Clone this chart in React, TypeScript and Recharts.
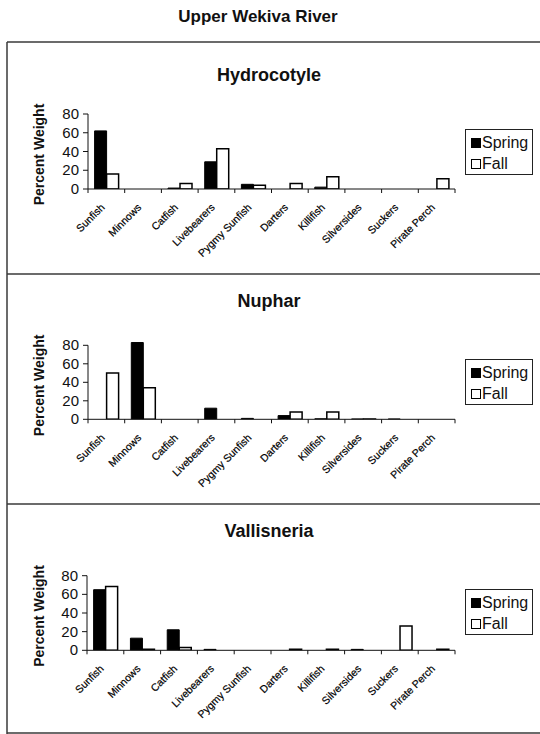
import React from 'react';
import { BarChart, Bar, XAxis, YAxis, Legend } from 'recharts';

const categories = ['Sunfish', 'Minnows', 'Catfish', 'Livebearers', 'Pygmy Sunfish', 'Darters', 'Killifish', 'Silversides', 'Suckers', 'Pirate Perch'];

const hydrocotyleSpring = [62, 0, 1, 29, 5, 0, 2, 0, 0, 0];
const hydrocotyleFall = [16, 0, 6, 43, 4, 6, 13, 0, 0, 11];

const nupharSpring = [0, 83, 0, 12, 1, 4, 0.5, 0.3, 0.3, 0];
const nupharFall = [50, 34, 0, 0, 0, 8, 8, 0.3, 0, 0];

const vallisneriaSpring = [65, 13, 22, 1, 0, 0, 0, 1, 0, 0];
const vallisneriaFall = [68.5, 1, 3, 0, 0, 1, 1, 0, 26, 1];

const yTicks = [0, 20, 40, 60, 80];
const mainTitle = 'Upper Wekiva River';
const panelTitles = ['Hydrocotyle', 'Nuphar', 'Vallisneria'];
const yLabel = 'Percent Weight';
const springName = 'Spring';
const fallName = 'Fall';

const FONT = '"Liberation Sans", Arial, Helvetica, sans-serif';
const INK = '#111';
const Y_MAX = 84;
const Y_TOP_TICK = 80;

function buildRows(spring: number[], fall: number[]) {
  return categories.map((c, i) => ({ name: c, spring: spring[i], fall: fall[i] }));
}

const XTick = (props: any) => {
  const { x, y, payload, index } = props;
  const off = payload && typeof payload.offset === 'number' && payload.offset > 0 ? payload.offset : 18.35;
  const tx = x - 1;
  const ty = y + 19;
  return (
    <g>
      <line x1={x - off} x2={x - off} y1={y} y2={y + 4} stroke={INK} strokeWidth={1} />
      {index === categories.length - 1 && (
        <line x1={x + off} x2={x + off} y1={y} y2={y + 4} stroke={INK} strokeWidth={1} />
      )}
      <text x={tx} y={ty} transform={`rotate(-45, ${tx}, ${ty})`} textAnchor="end" fontSize={10.5} fontFamily={FONT} fill="#000" stroke="#000" strokeWidth={0.2}>
        {payload.value}
      </text>
    </g>
  );
};

const makeYTick = (px80: number) => (props: any) => {
  const { x, y, payload } = props;
  const axisX = x + 9;
  return (
    <g>
      <line x1={axisX - 5} x2={axisX} y1={y} y2={y} stroke={INK} strokeWidth={1} />
      {payload.value === Y_TOP_TICK && (
        <line x1={axisX} x2={axisX} y1={y} y2={y + px80} stroke={INK} strokeWidth={1} />
      )}
      <text x={x} y={y} dy={5} textAnchor="end" fontSize={15} fontFamily={FONT} fill={INK}>
        {payload.value}
      </text>
    </g>
  );
};

const LegendBox = () => (
  <div style={{ position: 'relative', width: 68, height: 46, border: '1px solid #222', boxSizing: 'border-box', background: '#fff', fontFamily: FONT, fontSize: 16, color: INK }}>
    <div style={{ position: 'absolute', left: 5, top: 8, width: 10, height: 10, background: '#000' }} />
    <div style={{ position: 'absolute', left: 16, top: 4, lineHeight: '17px' }}>{springName}</div>
    <div style={{ position: 'absolute', left: 5, top: 29, width: 10, height: 10, background: '#fff', border: '1.5px solid #000', boxSizing: 'border-box' }} />
    <div style={{ position: 'absolute', left: 16, top: 25, lineHeight: '17px' }}>{fallName}</div>
  </div>
);

type PanelProps = {
  top: number;
  height: number;
  plotBottom: number;
  px80: number;
  plotLeft: number;
  legendTop: number;
  spring: number[];
  fall: number[];
};

const Panel = ({ top, height, plotBottom, px80, plotLeft, legendTop, spring, fall }: PanelProps) => {
  const data = buildRows(spring, fall);
  const xAxisHeight = 60;
  const plotHeight = (px80 * Y_MAX) / 80;
  const plotTop = plotBottom - plotHeight;
  const mTop = plotTop - top;
  const mBottom = height - mTop - plotHeight - xAxisHeight;
  const yAxisWidth = 60;
  const center80 = plotBottom - px80 / 2 - top;
  const renderYLabel = () => {
    const cx = 44;
    const cy = center80 + 3;
    return (
      <text x={cx} y={cy} transform={`rotate(-90, ${cx}, ${cy})`} textAnchor="middle" fontSize={14} fontWeight="bold" fontFamily={FONT} fill={INK}>
        {yLabel}
      </text>
    );
  };
  const YTick = makeYTick(px80);
  return (
    <div style={{ position: 'absolute', left: 0, top, width: 540, height }}>
      <BarChart
        width={540}
        height={height}
        data={data}
        margin={{ top: mTop, right: 540 - 455, bottom: mBottom, left: plotLeft - yAxisWidth }}
        barCategoryGap="18%"
        barGap={0}
      >
        <XAxis
          dataKey="name"
          interval={0}
          height={xAxisHeight}
          tickLine={false}
          tickSize={0}
          tickMargin={0}
          axisLine={{ stroke: INK, strokeWidth: 1 }}
          tick={<XTick />}
        />
        <YAxis
          width={yAxisWidth}
          domain={[0, Y_MAX]}
          ticks={yTicks}
          interval={0}
          allowDataOverflow
          tickSize={5}
          tickMargin={4}
          axisLine={false}
          tickLine={false}
          tick={<YTick />}
          label={{ content: renderYLabel }}
        />
        <Legend
          layout="horizontal"
          verticalAlign="middle"
          align="center"
          wrapperStyle={{ left: 465, top: legendTop, width: 68, height: 46 }}
          content={<LegendBox />}
        />
        <Bar dataKey="spring" name={springName} fill="#000" stroke="#000" strokeWidth={1} isAnimationActive={false} />
        <Bar dataKey="fall" name={fallName} fill="#fff" stroke="#000" strokeWidth={1.5} isAnimationActive={false} />
      </BarChart>
    </div>
  );
};

export default function App() {
  const frame = '#3a3a3a';
  return (
    <div style={{ position: 'absolute', left: 0, top: 0, width: 540, height: 734, background: '#fff', overflow: 'hidden' }}>
      <svg width={540} height={734} style={{ position: 'absolute', left: 0, top: 0 }}>
        <text x={258} y={22} textAnchor="middle" fontSize={17} fontWeight="bold" fontFamily={FONT} fill={INK}>{mainTitle}</text>
        <line x1={7} x2={540} y1={42} y2={42} stroke={frame} strokeWidth={1.5} />
        <line x1={7} x2={540} y1={274} y2={274} stroke={frame} strokeWidth={1.5} />
        <line x1={7} x2={540} y1={504} y2={504} stroke={frame} strokeWidth={1.5} />
        <line x1={7} x2={540} y1={733} y2={733} stroke={frame} strokeWidth={1.5} />
        <line x1={7} x2={7} y1={42} y2={734} stroke={frame} strokeWidth={1.5} />
        <text x={269} y={81} textAnchor="middle" fontSize={18} fontWeight="bold" fontFamily={FONT} fill={INK}>{panelTitles[0]}</text>
        <text x={269} y={307} textAnchor="middle" fontSize={18} fontWeight="bold" fontFamily={FONT} fill={INK}>{panelTitles[1]}</text>
        <text x={269} y={537} textAnchor="middle" fontSize={18} fontWeight="bold" fontFamily={FONT} fill={INK}>{panelTitles[2]}</text>
      </svg>
      <Panel top={42} height={230} plotBottom={189} px80={75} plotLeft={88} legendTop={87} spring={hydrocotyleSpring} fall={hydrocotyleFall} />
      <Panel top={274} height={228} plotBottom={419.3} px80={74} plotLeft={88} legendTop={85} spring={nupharSpring} fall={nupharFall} />
      <Panel top={504} height={228} plotBottom={650.3} px80={74.6} plotLeft={87} legendTop={85} spring={vallisneriaSpring} fall={vallisneriaFall} />
    </div>
  );
}
